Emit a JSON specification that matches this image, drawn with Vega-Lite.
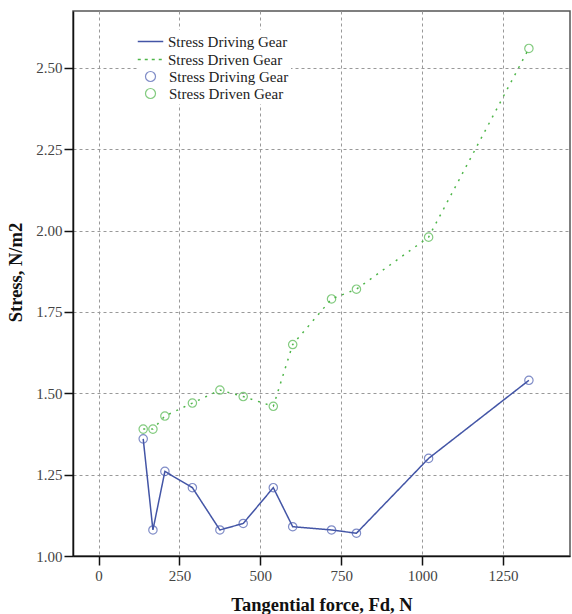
{
  "$schema": "https://vega.github.io/schema/vega-lite/v6.json",
  "autosize": "none",
  "width": 497,
  "height": 545,
  "padding": {"left": 73, "top": 11, "right": 2, "bottom": 58},
  "background": "white",
  "config": {
    "font": "Liberation Serif",
    "view": {"stroke": "#555", "strokeWidth": 1.5},
    "axis": {
      "domainColor": "#111",
      "domainWidth": 1.5,
      "tickColor": "#111",
      "tickWidth": 1.5,
      "tickSize": 9,
      "labelFont": "Liberation Serif",
      "labelFontSize": 15,
      "labelColor": "#444",
      "titleFont": "Liberation Serif",
      "titleFontSize": 18.5,
      "titleFontWeight": "bold",
      "titleColor": "#111",
      "gridColor": "#999",
      "gridDash": [3, 3],
      "gridWidth": 1
    },
    "legend": {
      "labelFont": "Liberation Serif",
      "labelFontSize": 15,
      "labelColor": "#222",
      "fillColor": "white",
      "padding": 2
    }
  },
  "data": {
    "values": [
      {"x": 138, "y": 1.36, "series": "Stress Driving Gear"},
      {"x": 168, "y": 1.08, "series": "Stress Driving Gear"},
      {"x": 205, "y": 1.26, "series": "Stress Driving Gear"},
      {"x": 290, "y": 1.21, "series": "Stress Driving Gear"},
      {"x": 375, "y": 1.08, "series": "Stress Driving Gear"},
      {"x": 447, "y": 1.10, "series": "Stress Driving Gear"},
      {"x": 540, "y": 1.21, "series": "Stress Driving Gear"},
      {"x": 600, "y": 1.09, "series": "Stress Driving Gear"},
      {"x": 720, "y": 1.08, "series": "Stress Driving Gear"},
      {"x": 797, "y": 1.07, "series": "Stress Driving Gear"},
      {"x": 1020, "y": 1.30, "series": "Stress Driving Gear"},
      {"x": 1330, "y": 1.54, "series": "Stress Driving Gear"},
      {"x": 138, "y": 1.39, "series": "Stress Driven Gear"},
      {"x": 168, "y": 1.39, "series": "Stress Driven Gear"},
      {"x": 205, "y": 1.43, "series": "Stress Driven Gear"},
      {"x": 290, "y": 1.47, "series": "Stress Driven Gear"},
      {"x": 375, "y": 1.51, "series": "Stress Driven Gear"},
      {"x": 447, "y": 1.49, "series": "Stress Driven Gear"},
      {"x": 540, "y": 1.46, "series": "Stress Driven Gear"},
      {"x": 600, "y": 1.65, "series": "Stress Driven Gear"},
      {"x": 720, "y": 1.79, "series": "Stress Driven Gear"},
      {"x": 797, "y": 1.82, "series": "Stress Driven Gear"},
      {"x": 1020, "y": 1.98, "series": "Stress Driven Gear"},
      {"x": 1330, "y": 2.56, "series": "Stress Driven Gear"}
    ]
  },
  "encoding": {
    "x": {
      "field": "x", "type": "quantitative",
      "scale": {"domain": [-79, 1457], "nice": false, "zero": false},
      "axis": {"values": [0, 250, 500, 750, 1000, 1250], "format": "d", "title": "Tangential force, Fd, N", "labelPadding": 3, "titlePadding": 12}
    },
    "y": {
      "field": "y", "type": "quantitative",
      "scale": {"domain": [1.0, 2.675], "nice": false, "zero": false},
      "axis": {"values": [1.0, 1.25, 1.5, 1.75, 2.0, 2.25, 2.5], "format": ".2f", "title": "Stress, N/m2", "titleY": 261, "labelPadding": 2, "titlePadding": 10}
    }
  },
  "layer": [
    {
      "mark": {"type": "line", "strokeWidth": 1.5},
      "encoding": {
        "color": {
          "field": "series", "type": "nominal",
          "scale": {"domain": ["Stress Driving Gear", "Stress Driven Gear"], "range": ["#4355a6", "#4fb64a"]},
          "legend": {
            "title": null, "orient": "none", "legendX": 66, "legendY": 19,
            "symbolType": "M-1.5,0H1.5", "symbolSize": 289, "symbolStrokeWidth": 1.5,
            "labelOffset": 8, "rowPadding": 0,
            "encode": {"symbols": {"update": {"strokeDash": {"signal": "datum.value === 'Stress Driven Gear' ? [3, 4] : [1, 0]"}, "stroke": {"signal": "datum.value === 'Stress Driven Gear' ? '#8fa88c' : '#4355a6'"}}}}
          }
        },
        "strokeDash": {
          "field": "series", "type": "nominal",
          "scale": {"domain": ["Stress Driving Gear", "Stress Driven Gear"], "range": [[1, 0], [2, 6]]},
          "legend": null
        }
      }
    },
    {
      "mark": {"type": "point", "shape": "circle", "filled": false, "size": 70, "strokeWidth": 1.2},
      "encoding": {
        "color": {
          "field": "series", "type": "nominal",
          "scale": {"domain": ["Stress Driving Gear", "Stress Driven Gear"], "range": ["#4a5cb0", "#4fb64a"]},
          "legend": {"title": null, "orient": "none", "legendX": 68, "legendY": 56, "symbolType": "circle", "symbolSize": 100, "symbolStrokeWidth": 1.2, "symbolFillColor": "white", "labelOffset": 11, "rowPadding": 1}
        }
      }
    }
  ],
  "resolve": {"scale": {"color": "independent"}, "legend": {"color": "independent"}}
}
